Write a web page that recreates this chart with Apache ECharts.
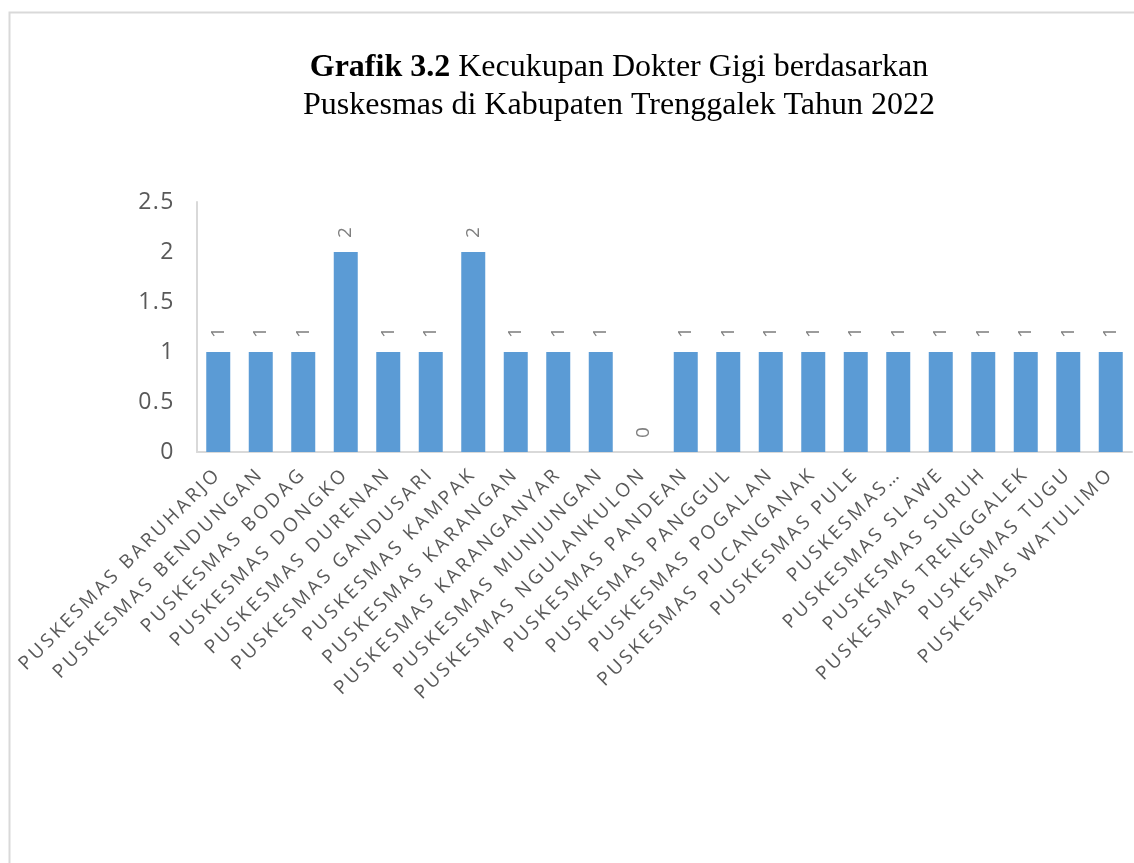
<!DOCTYPE html>
<html>
<head>
<meta charset="utf-8">
<script src="https://cdn.jsdelivr.net/npm/echarts@6/dist/echarts.min.js"></script>
<style>
  html, body { margin: 0; padding: 0; background: #fff; }
  #main { width: 1134px; height: 863px; }
</style>
</head>
<body>
<div id="main"></div>
<script>
// nama puskesmas (sumbu x)
var puskesmas = [
    'PUSKESMAS BARUHARJO', 'PUSKESMAS BENDUNGAN', 'PUSKESMAS BODAG', 'PUSKESMAS DONGKO',
    'PUSKESMAS DURENAN', 'PUSKESMAS GANDUSARI', 'PUSKESMAS KAMPAK', 'PUSKESMAS KARANGAN',
    'PUSKESMAS KARANGANYAR', 'PUSKESMAS MUNJUNGAN', 'PUSKESMAS NGULANKULON', 'PUSKESMAS PANDEAN',
    'PUSKESMAS PANGGUL', 'PUSKESMAS POGALAN', 'PUSKESMAS PUCANGANAK', 'PUSKESMAS PULE',
    'PUSKESMAS…', 'PUSKESMAS SLAWE', 'PUSKESMAS SURUH', 'PUSKESMAS TRENGGALEK',
    'PUSKESMAS TUGU', 'PUSKESMAS WATULIMO'
];
// jumlah dokter gigi
var dokterGigi = [1, 1, 1, 2, 1, 1, 2, 1, 1, 1, 0, 1, 1, 1, 1, 1, 1, 1, 1, 1, 1, 1];
var yTicks = [0, 0.5, 1, 1.5, 2, 2.5];

// label di Excel pakai jarak huruf lebar, canvas echarts tidak punya opsi ini
// ukuran font -> jarak huruf
var jarakHuruf = { '19px': '3px', '23px': '1.5px' };
var oldFillText = CanvasRenderingContext2D.prototype.fillText;
CanvasRenderingContext2D.prototype.fillText = function (t, x, y, w) {
    for (var k in jarakHuruf) {
        if (this.font.indexOf(k) >= 0) {
            this.letterSpacing = jarakHuruf[k];
            oldFillText.apply(this, arguments);
            this.letterSpacing = '0px';
            return;
        }
    }
    return oldFillText.apply(this, arguments);
};

var myChart = echarts.init(document.getElementById('main'));

var option = {
    backgroundColor: '#fff',
    title: {
        text: '{b|Grafik 3.2} Kecukupan Dokter Gigi berdasarkan\nPuskesmas di Kabupaten Trenggalek Tahun 2022',
        left: 614,
        top: 44,
        textAlign: 'center',
        textStyle: {
            fontFamily: 'Liberation Serif',
            fontSize: 32,
            fontWeight: 'normal',
            color: '#000',
            lineHeight: 38,
            rich: {
                b: {
                    fontFamily: 'Liberation Serif',
                    fontSize: 32,
                    fontWeight: 'bold',
                    color: '#000',
                    lineHeight: 38
                }
            }
        }
    },
    graphic: [
        {
            // bingkai abu-abu
            type: 'rect',
            left: 7,
            top: 10,
            shape: { width: 1200, height: 900 },
            style: { fill: 'none', stroke: '#d9d9d9', lineWidth: 2 },
            z: -1
        }
    ],
    grid: {
        left: 197,
        right: 2,
        top: 202,
        bottom: 411
    },
    xAxis: {
        type: 'category',
        data: puskesmas,
        axisLine: { show: true, lineStyle: { color: '#d9d9d9', width: 2 } },
        axisTick: { show: false },
        axisLabel: {
            interval: 0,
            rotate: 45,
            margin: 19,
            fontFamily: 'Open Sans',
            fontSize: 19,
            color: '#595959'
        }
    },
    yAxis: {
        type: 'value',
        min: yTicks[0],
        max: yTicks[yTicks.length - 1],
        interval: 0.5,
        axisLine: { show: true, lineStyle: { color: '#d9d9d9', width: 2 } },
        axisTick: { show: false },
        splitLine: { show: false },
        axisLabel: {
            margin: 22,
            fontFamily: 'Open Sans',
            fontSize: 23,
            color: '#595959'
        }
    },
    series: [
        {
            name: 'Dokter Gigi',
            type: 'bar',
            data: dokterGigi,
            barWidth: 24,
            itemStyle: {
                color: '#5b9bd5'
            },
            label: {
                show: true,
                position: 'top',
                rotate: 90,
                align: 'left',
                verticalAlign: 'middle',
                distance: 14,
                fontFamily: 'Open Sans',
                fontSize: 19,
                color: '#7f7f7f'
            }
        }
    ]
};

myChart.setOption(option);
</script>
</body>
</html>
